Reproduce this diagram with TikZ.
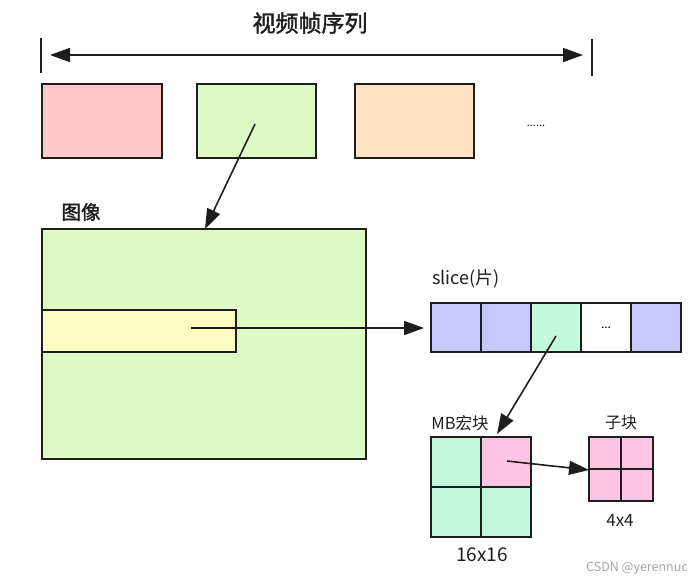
\documentclass[tikz,border=0pt]{standalone}
\usepackage{fontspec}
\setmainfont{Noto Sans CJK SC}
\newfontfamily\cjkbold{Noto Sans CJK SC}[FakeBold=1.6]
\usetikzlibrary{arrows.meta}
\definecolor{fpink}{RGB}{255,199,199}
\definecolor{fgreen}{RGB}{222,250,196}
\definecolor{forange}{RGB}{255,225,196}
\definecolor{fyellow}{RGB}{255,252,195}
\definecolor{flav}{RGB}{200,200,255}
\definecolor{fmint}{RGB}{196,249,224}
\definecolor{fmag}{RGB}{255,196,228}
\definecolor{edge}{RGB}{30,30,30}
\tikzset{
  box/.style={draw=edge, line width=1.9pt, inner sep=0pt, outer sep=0pt, rectangle},
  conn/.style={draw=edge, line width=1.6pt, -{Triangle[length=20pt,width=14pt]}},
  dconn/.style={draw=edge, line width=1.6pt, {Triangle[length=20pt,width=14pt]}-{Triangle[length=20pt,width=14pt]}},
  tick/.style={draw=edge, line width=2pt},
  lbl/.style={inner sep=0pt, text=black!88},
}
\begin{document}
\begin{tikzpicture}[x=1pt,y=-1pt]
\useasboundingbox[fill=white] (0,0) rectangle (691,582);
% title and range arrow
\node[lbl, font=\cjkbold\fontsize{23}{26}\selectfont] (title) at (310,23) {视频帧序列};
\coordinate (lt1) at (41,38); \coordinate (lt2) at (41,73);
\coordinate (rt1) at (592,39); \coordinate (rt2) at (592,76);
\draw[tick] (lt1) -- (lt2);
\draw[tick] (rt1) -- (rt2);
\coordinate (al) at (50,55); \coordinate (ar) at (583,55);
\draw[dconn] (al) -- (ar);
% frames
\node[box, fill=fpink, minimum width=120pt, minimum height=74pt] (f1) at (102,121) {};
\node[box, fill=fgreen, minimum width=119pt, minimum height=74pt] (f2) at (256.5,121) {};
\node[box, fill=forange, minimum width=119pt, minimum height=74pt] (f3) at (414.5,121) {};
\node[lbl, font=\fontsize{11}{12}\selectfont] (dots) at (536,126) {......};
% image
\node[lbl, font=\cjkbold\fontsize{19.5}{22}\selectfont] (imglbl) at (81,212) {图像};
\node[box, fill=fgreen, minimum width=324pt, minimum height=230pt] (img) at (204,344) {};
\node[box, fill=fyellow, minimum width=194pt, minimum height=42pt] (strip) at (139,331) {};
\coordinate (f2s) at (255,124);
\coordinate (imgt) at (205,229);
\draw[conn] (f2s) -- (imgt);
% slice
\node[lbl, font=\fontsize{18}{21}\selectfont, anchor=west] (slicelbl) at (432,279) {slice(片)};
\node[box, fill=flav, minimum width=50pt, minimum height=49pt] (s1) at (456,327.5) {};
\node[box, fill=flav, minimum width=50pt, minimum height=49pt] (s2) at (506,327.5) {};
\node[box, fill=fmint, minimum width=50pt, minimum height=49pt] (s3) at (556,327.5) {};
\node[box, fill=white, minimum width=50pt, minimum height=49pt, font=\fontsize{12}{13}\selectfont] (s4) at (606,327.5) {...};
\node[box, fill=flav, minimum width=50pt, minimum height=49pt] (s5) at (656,327.5) {};
\coordinate (strips) at (191,328);
\coordinate (slicel) at (424,328);
\draw[conn] (strips) -- (slicel);
% macroblock
\node[lbl, font=\fontsize{16.5}{19}\selectfont] (mblbl) at (460,423) {MB宏块};
\node[box, fill=fmint, minimum width=50pt, minimum height=50pt] (m1) at (456,462) {};
\node[box, fill=fmag, minimum width=50pt, minimum height=50pt] (m2) at (506,462) {};
\node[box, fill=fmint, minimum width=50pt, minimum height=50pt] (m3) at (456,512) {};
\node[box, fill=fmint, minimum width=50pt, minimum height=50pt] (m4) at (506,512) {};
\node[lbl, font=\fontsize{19}{22}\selectfont] (mbsize) at (482,555) {16x16};
\coordinate (s3s) at (556,336);
\coordinate (mbt) at (497,434);
\draw[conn] (s3s) -- (mbt);
% sub-block
\node[lbl, font=\fontsize{16}{19}\selectfont] (sublbl) at (621,423) {子块};
\node[box, fill=fmag, minimum width=32pt, minimum height=32pt] (b1) at (605,453) {};
\node[box, fill=fmag, minimum width=32pt, minimum height=32pt] (b2) at (637,453) {};
\node[box, fill=fmag, minimum width=32pt, minimum height=32pt] (b3) at (605,485) {};
\node[box, fill=fmag, minimum width=32pt, minimum height=32pt] (b4) at (637,485) {};
\node[lbl, font=\fontsize{17}{20}\selectfont] (subsize) at (620,520) {4x4};
\coordinate (m2s) at (507,461);
\coordinate (subl) at (589,470);
\draw[conn] (m2s) -- (subl);
% watermark
\node[lbl, text=black!35, font=\fontsize{12.5}{14}\selectfont] (wm) at (637,568) {CSDN @yerennuc};
\end{tikzpicture}
\end{document}
